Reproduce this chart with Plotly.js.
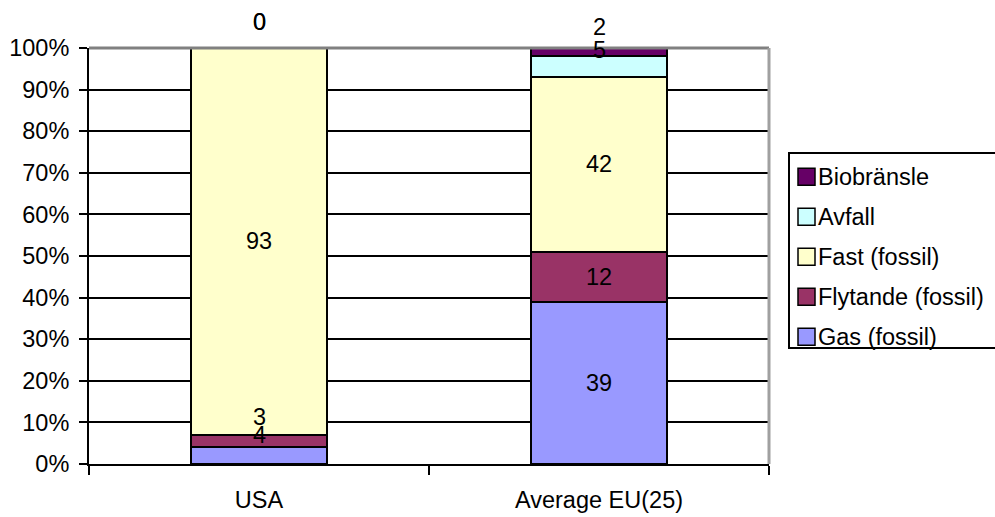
<!DOCTYPE html>
<html>
<head>
<meta charset="utf-8">
<script src="https://cdn.plot.ly/plotly-3.0.1.min.js"></script>
<style>
  html, body { margin: 0; padding: 0; background: #fff; }
  #chart { width: 995px; height: 517px; }
</style>
</head>
<body>
<div id="chart"></div>
<script>
// Fuel mix per region, percent of total
const categories = ['USA', 'Average EU(25)'];
const seriesNames = ['Gas (fossil)', 'Flytande (fossil)', 'Fast (fossil)', 'Avfall', 'Biobränsle'];
const gas        = [4, 39];
const flytande   = [3, 12];
const fast       = [93, 42];
const avfall     = [0, 5];
const biobransle = [0, 2];
const yTickValues = [0, 10, 20, 30, 40, 50, 60, 70, 80, 90, 100];

const seriesValues = [gas, flytande, fast, avfall, biobransle];
const seriesColors = ['#9999FF', '#993366', '#FFFFCC', '#CCFFFF', '#660066'];

// Plot frame in pixels
const W = 995, H = 517;
const M = { l: 89, r: 226, t: 48, b: 53 };
const plotW = W - M.l - M.r, plotH = H - M.t - M.b;
const px = x => (x - M.l) / plotW;
const py = y => (H - M.b - y) / plotH;

const FONT = 'Liberation Sans, Arial, sans-serif';
const FS = 23.5;

const traces = seriesNames.map((name, i) => ({
  type: 'bar',
  name: name,
  x: categories,
  y: seriesValues[i],
  marker: { color: seriesColors[i], line: { color: '#000', width: 2.2 } },
  showlegend: false,
  hoverinfo: 'x+y+name'
}));

// Value labels sit at the middle of each segment; thin segments at the
// top/bottom of a stack are lifted so their labels stay readable.
const labelLift = {
  'USA': [21, 24, 0, 26, 26],
  'Average EU(25)': [0, 0, 0, 17, 25]
};
const annotations = [];
categories.forEach((cat, c) => {
  let base = 0;
  seriesValues.forEach((vals, s) => {
    const v = vals[c];
    annotations.push({
      x: cat, y: base + v / 2, xref: 'x', yref: 'y',
      text: String(v), showarrow: false,
      yshift: labelLift[cat][s],
      font: { family: FONT, size: FS, color: '#000' }
    });
    base += v;
  });
});

// Boxed legend, listed from the top of the stack down
const shapes = [];
const legLeft = 789, legTop = 153, legBottom = 348, legRight = 1000;
shapes.push({
  type: 'rect', xref: 'paper', yref: 'paper',
  x0: px(legLeft), x1: px(legRight), y0: py(legBottom), y1: py(legTop),
  line: { color: '#000', width: 2 }, fillcolor: 'rgba(0,0,0,0)', layer: 'above'
});
const legendOrder = seriesNames.map((_, i) => i).reverse();
legendOrder.forEach((s, k) => {
  const cy = 176.7 + k * 40;
  shapes.push({
    type: 'rect', xref: 'paper', yref: 'paper',
    x0: px(798), x1: px(815), y0: py(cy + 8.5), y1: py(cy - 8.5),
    fillcolor: seriesColors[s], line: { color: '#000', width: 1.5 }, layer: 'above'
  });
  annotations.push({
    xref: 'paper', yref: 'paper', x: px(816), y: py(cy),
    xanchor: 'left', yanchor: 'middle', showarrow: false,
    text: seriesNames[s],
    font: { family: FONT, size: FS, color: '#000' }
  });
});

// Grey plot-area border on the top and right edges
shapes.push({
  type: 'line', xref: 'paper', yref: 'paper', x0: 0, x1: 1, y0: 1, y1: 1,
  line: { color: '#808080', width: 3 }, layer: 'above'
});
shapes.push({
  type: 'line', xref: 'paper', yref: 'paper', x0: 1, x1: 1, y0: 0, y1: 1,
  line: { color: '#A0A0A0', width: 3 }, layer: 'above'
});

const layout = {
  width: W, height: H,
  margin: M,
  paper_bgcolor: '#fff', plot_bgcolor: '#fff',
  barmode: 'stack',
  bargap: 0.6,
  showlegend: false,
  font: { family: FONT, size: FS, color: '#000' },
  xaxis: {
    type: 'category',
    showline: true, linecolor: '#000', linewidth: 2,
    ticks: 'outside', tickson: 'boundaries', ticklen: 9, tickwidth: 2, tickcolor: '#000',
    ticklabelstandoff: 14,
    showgrid: false, zeroline: false,
    tickfont: { family: FONT, size: FS, color: '#000' }
  },
  yaxis: {
    range: [0, 100],
    tickvals: yTickValues,
    ticktext: yTickValues.map(v => v + '%'),
    showline: true, linecolor: '#000', linewidth: 2,
    ticks: 'outside', ticklen: 8, tickwidth: 2, tickcolor: '#000',
    ticklabelstandoff: 5,
    showgrid: true, gridcolor: '#000', gridwidth: 2,
    zeroline: false,
    tickfont: { family: FONT, size: FS, color: '#000' }
  },
  annotations: annotations,
  shapes: shapes
};

Plotly.newPlot('chart', traces, layout, { displayModeBar: false, staticPlot: true });
</script>
</body>
</html>
